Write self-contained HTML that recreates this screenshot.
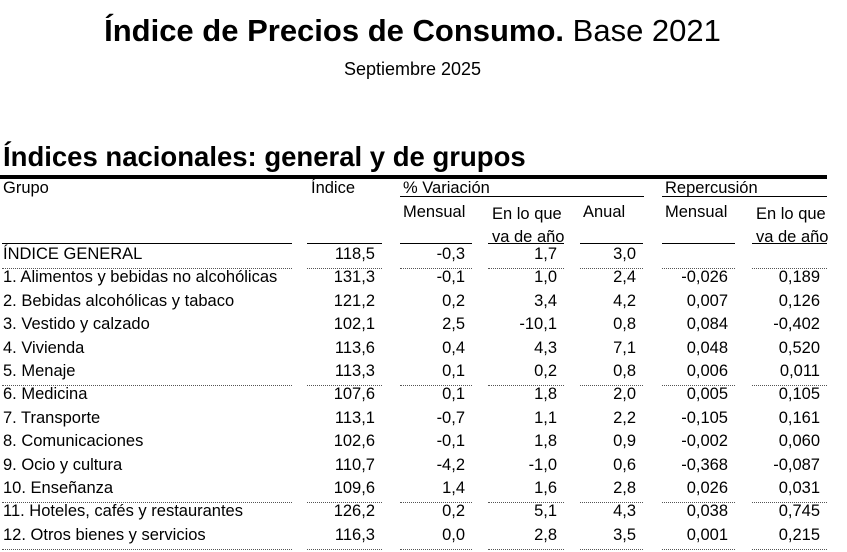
<!DOCTYPE html>
<html><head><meta charset="utf-8">
<style>
body{margin:0;width:847px;height:552px;background:#fff;overflow:hidden;font-family:"Liberation Sans",Arial,sans-serif;color:#000;position:relative}
.a{position:absolute;white-space:nowrap}
.t{font-size:16.5px;line-height:19px}
.r{text-align:right}
.ln{position:absolute;background:#000}
.dot{position:absolute;height:0;border-top:1px dotted #555}
</style></head><body>
<div class="a" style="left:0;width:825px;text-align:center;top:13px;font-size:31px;line-height:36px"><b>Índice de Precios de Consumo.</b> Base 2021</div>
<div class="a" style="left:0;width:825px;text-align:center;top:58px;font-size:18px;line-height:22px">Septiembre 2025</div>
<div class="a" style="left:3px;top:142px;font-size:27.5px;line-height:30px;font-weight:bold">Índices nacionales: general y de grupos</div>
<div class="ln" style="left:0;top:175px;width:827px;height:4px"></div>
<div class="a t" style="left:3px;top:179px">Grupo</div>
<div class="a t" style="left:311px;top:179px">Índice</div>
<div class="a t" style="left:403px;top:179px">% Variación</div>
<div class="ln" style="left:400px;top:196px;width:244px;height:1px"></div>
<div class="a t" style="left:665px;top:179px">Repercusión</div>
<div class="ln" style="left:662px;top:196px;width:165px;height:1px"></div>
<div class="a t" style="left:403px;top:203px">Mensual</div>
<div class="a t" style="left:492px;top:203px;line-height:23px">En lo que<br>va de año</div>
<div class="a t" style="left:583px;top:203px">Anual</div>
<div class="a t" style="left:665px;top:203px">Mensual</div>
<div class="a t" style="left:756px;top:203px;line-height:23px">En lo que<br>va de año</div>
<div id="tbl"></div>
<script>
const groups=["ÍNDICE GENERAL","1. Alimentos y bebidas no alcohólicas","2. Bebidas alcohólicas y tabaco","3. Vestido y calzado","4. Vivienda","5. Menaje","6. Medicina","7. Transporte","8. Comunicaciones","9. Ocio y cultura","10. Enseñanza","11. Hoteles, cafés y restaurantes","12. Otros bienes y servicios"];
const indice=["118,5","131,3","121,2","102,1","113,6","113,3","107,6","113,1","102,6","110,7","109,6","126,2","116,3"];
const varMensual=["-0,3","-0,1","0,2","2,5","0,4","0,1","0,1","-0,7","-0,1","-4,2","1,4","0,2","0,0"];
const varAno=["1,7","1,0","3,4","-10,1","4,3","0,2","1,8","1,1","1,8","-1,0","1,6","5,1","2,8"];
const varAnual=["3,0","2,4","4,2","0,8","7,1","0,8","2,0","2,2","0,9","0,6","2,8","4,3","3,5"];
const repMensual=["","-0,026","0,007","0,084","0,048","0,006","0,005","-0,105","-0,002","-0,368","0,026","0,038","0,001"];
const repAno=["","0,189","0,126","-0,402","0,520","0,011","0,105","0,161","0,060","-0,087","0,031","0,745","0,215"];
const dottedAfter=[0,5,10,12];
const cols=[[2,292],[307,382],[400,472],[488,564],[580,643],[662,735],[752,827]];
const tbl=document.getElementById('tbl');
const rowTop=i=>244+i*23.4;
cols.forEach((c,k)=>{
  const l=document.createElement('div');l.className='ln';
  
  
  l.style.cssText=`left:${c[0]}px;top:243px;width:${c[1]-c[0]}px;height:1px`;
  tbl.appendChild(l);
});
const series=[indice,varMensual,varAno,varAnual,repMensual,repAno];
const names=['indice','var-mensual','var-ano','var-anual','rep-mensual','rep-ano'];
groups.forEach((g,i)=>{
  const top=rowTop(i)+1;
  const d=document.createElement('div');d.className='a t';
  
  
  d.style.cssText=`left:3px;top:${top}px`;d.textContent=g;tbl.appendChild(d);
  series.forEach((s,k)=>{
    const c=cols[k+1];
    const v=document.createElement('div');v.className='a t r';
    
    
    v.style.cssText=`left:${c[0]}px;width:${c[1]-c[0]-7}px;top:${top}px`;
    v.textContent=s[i];tbl.appendChild(v);
  });
  if(dottedAfter.includes(i)){
    cols.forEach(c=>{
      const l=document.createElement('div');l.className='dot';
      
      
      l.style.cssText=`left:${c[0]}px;top:${rowTop(i+1)+1}px;width:${c[1]-c[0]}px`;
      tbl.appendChild(l);
    });
  }
});
</script>
</body></html>
